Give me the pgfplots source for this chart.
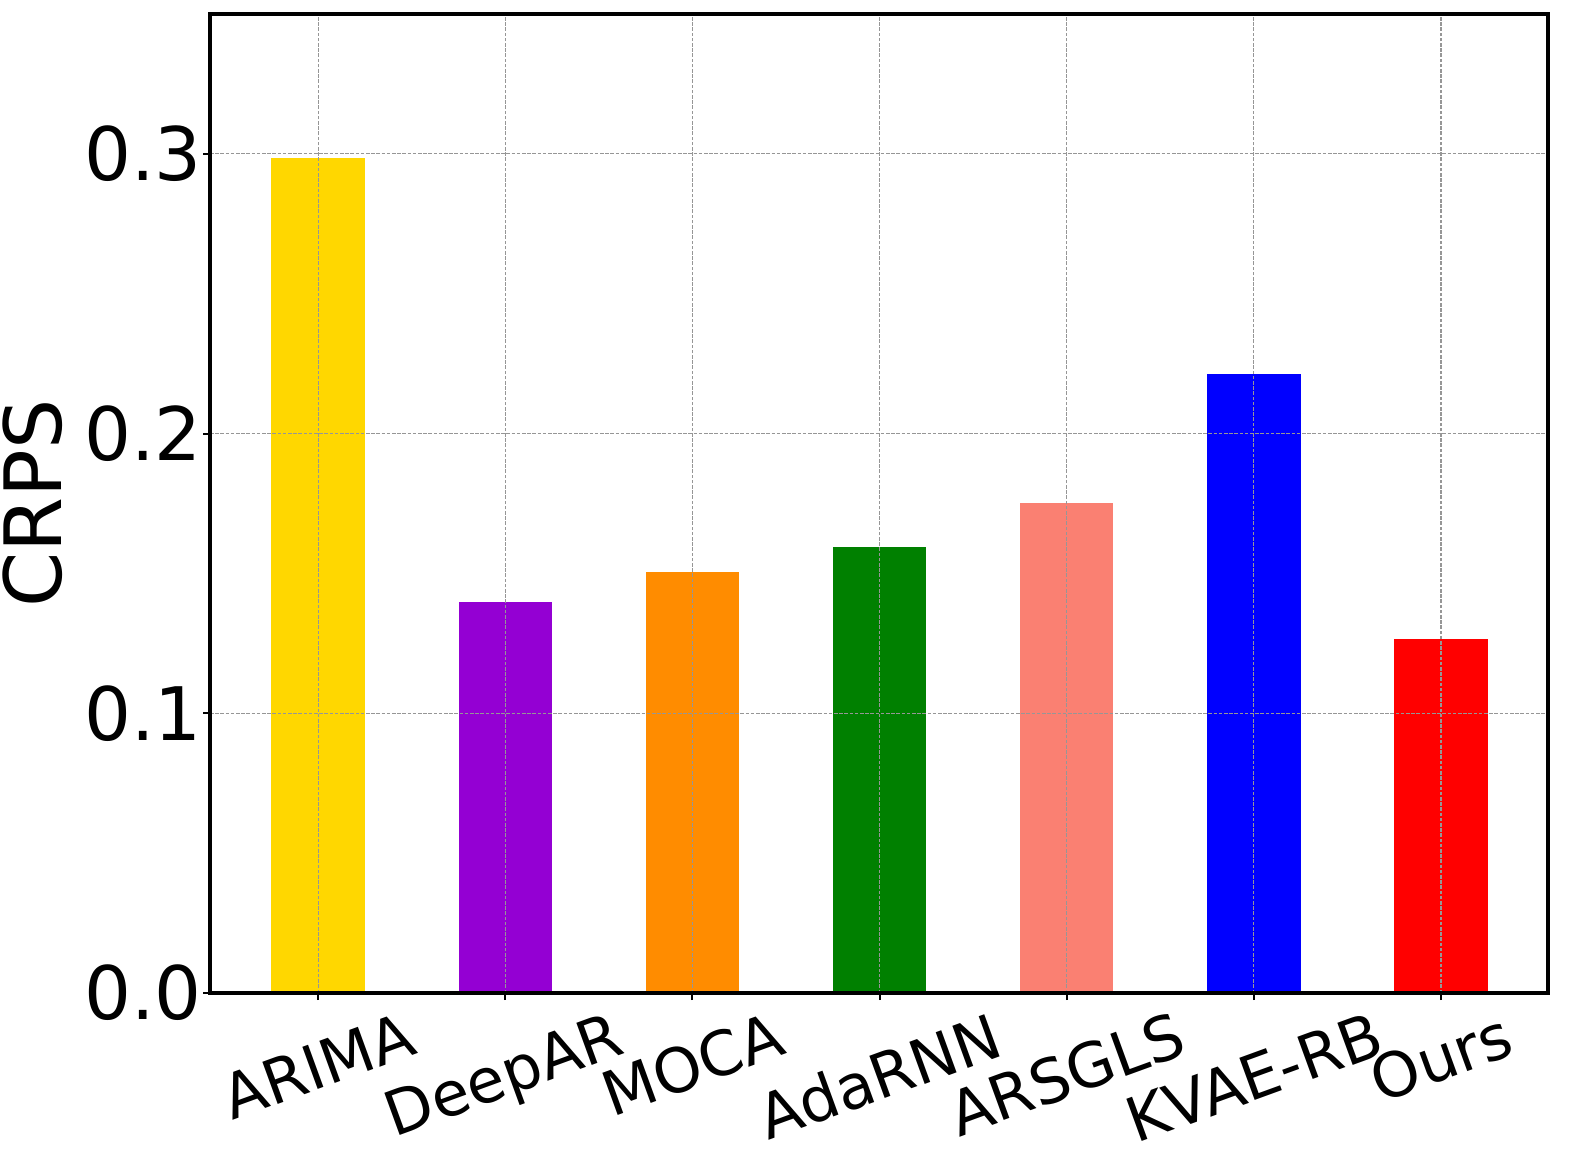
\documentclass[border=0pt]{standalone}
\usepackage{pgfplots}
\pgfplotsset{compat=1.18}
\usepackage{fontspec}
\setmainfont{DejaVu Sans}
\definecolor{cgold}{RGB}{255,215,0}
\definecolor{cviolet}{RGB}{148,0,211}
\definecolor{corange}{RGB}{255,140,0}
\definecolor{cgreen}{RGB}{0,128,0}
\definecolor{csalmon}{RGB}{250,128,114}
\definecolor{cblue}{RGB}{0,0,255}
\definecolor{cred}{RGB}{255,0,0}
\definecolor{cgrid}{RGB}{150,150,150}
\begin{document}
\begin{tikzpicture}
\begin{axis}[
  width=133.8mm, height=97.9mm, scale only axis,
  xmin=-0.578, xmax=6.572, ymin=0, ymax=0.35,
  xtick={0,1,2,3,4,5,6},
  xticklabels={\rotatebox{20}{ARIMA},\rotatebox{20}{DeepAR},\rotatebox{20}{MOCA},\rotatebox{20}{AdaRNN},\rotatebox{20}{ARSGLS},\rotatebox{20}{KVAE-RB},\rotatebox{20}{Ours}},
  ytick={0,0.1,0.2,0.3},
  yticklabels={0.0,0.1,0.2,0.3},
  /pgf/number format/assume math mode=true,
  yticklabel style={font=\fontsize{21}{25}\selectfont, xshift=1.1mm},
  xticklabel style={font=\fontsize{17.5}{21}\selectfont, anchor=north, inner sep=0pt, yshift=-1.0mm},
  ylabel={CRPS},
  ylabel style={font=\fontsize{22.5}{27}\selectfont, inner sep=0pt, at={(axis description cs:-0.1099,0.5)}, anchor=south},
  grid=major,
  grid style={cgrid, line width=0.3pt, dash pattern=on 0.35mm off 0.17mm},
  axis line style={line width=0.9pt},
  tick style={black, line width=0.6pt},
  major tick length=0.7mm, tick align=outside,
  xtick pos=left, ytick pos=left,
  axis on top,
  ybar, bar width=0.5, bar shift=0pt,
  clip=false,
]
\addplot[fill=cgold, draw=none] coordinates {(0,0.2986)};
\addplot[fill=cviolet, draw=none] coordinates {(1,0.1398)};
\addplot[fill=corange, draw=none] coordinates {(2,0.1506)};
\addplot[fill=cgreen, draw=none] coordinates {(3,0.1595)};
\addplot[fill=csalmon, draw=none] coordinates {(4,0.1752)};
\addplot[fill=cblue, draw=none] coordinates {(5,0.2214)};
\addplot[fill=cred, draw=none] coordinates {(6,0.1266)};
\path (rel axis cs:0,0) ++(-21mm,-15.1mm) coordinate (bl);
\path (rel axis cs:1,1) ++(3mm,1.4mm) coordinate (tr);
\end{axis}
\path (bl) rectangle (tr);
\end{tikzpicture}
\end{document}
